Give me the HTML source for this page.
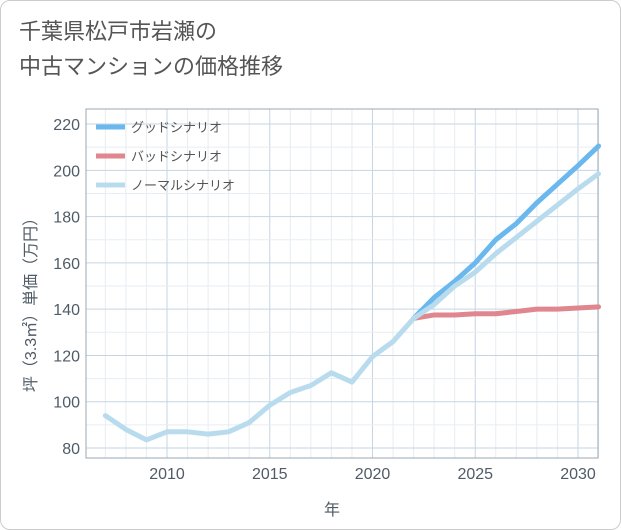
<!DOCTYPE html>
<html><head><meta charset="utf-8">
<style>
body{margin:0;background:#fff;}
#wrap{position:relative;width:619px;height:528px;border:1px solid #ccc;border-radius:10px;overflow:hidden;background:#fff;font-family:"Liberation Sans","Noto Sans CJK JP",sans-serif;}
#title{position:absolute;left:18px;top:13px;font-size:22px;line-height:35px;color:#555;}
svg{position:absolute;left:0;top:0;}
</style></head><body>
<div id="wrap">
<div id="title">千葉県松戸市岩瀬の<br>中古マンションの価格推移</div>
<svg id="chart" width="621" height="530"></svg>
</div>
<script>
const years=[2007,2008,2009,2010,2011,2012,2013,2014,2015,2016,2017,2018,2019,2020,2021,2022,2023,2024,2025,2026,2027,2028,2029,2030,2031];
const normalVals=[94,88,83.5,87,87,86,87,91,98.5,104,107,112.5,108.5,119.5,126,136,142,150,156,164,171,178,185,192,198.5];
const futureYears=[2022,2023,2024,2025,2026,2027,2028,2029,2030,2031];
const goodVals=[136,145,152,160,170,177,186,194,202,210.5];
const badVals=[136,137.5,137.5,138,138,139,140,140,140.5,141];
const xTicks=[2010,2015,2020,2025,2030];
const yTicks=[80,100,120,140,160,180,200,220];
const legendLabels=["グッドシナリオ","バッドシナリオ","ノーマルシナリオ"];

const L=85,R=597,T=108,B=457;
const x=v=>166+(v-2010)*20.55;
const y=v=>447-(v-80)*2.314;
const svg=document.getElementById('chart');
const NS='http://www.w3.org/2000/svg';
function mk(t,a){const e=document.createElementNS(NS,t);for(const k in a)e.setAttribute(k,a[k]);svg.appendChild(e);return e;}
for(let yr=2007;yr<=2031;yr++){const g=mk('line',{x1:x(yr),x2:x(yr),y1:T,y2:B,stroke:xTicks.includes(yr)?'#c5d5e3':'#e6edf3','stroke-width':1});
}
for(let v=80;v<=225;v+=10){const g=mk('line',{x1:L,x2:R,y1:y(v),y2:y(v),stroke:yTicks.includes(v)?'#c5d5e3':'#e6edf3','stroke-width':1});
}
const fr=mk('rect',{x:L,y:T,width:R-L,height:B-T,fill:'none',stroke:'#9aa8b5'});

xTicks.forEach(t=>{const e=mk('text',{x:x(t),y:478,'text-anchor':'middle','font-size':16,fill:'#4f5b66'});e.textContent=t;
});
yTicks.forEach(t=>{const e=mk('text',{x:79,y:y(t)+6,'text-anchor':'end','font-size':16,fill:'#4f5b66'});e.textContent=t;
});
const xt=mk('text',{x:331,y:514,'text-anchor':'middle','font-size':16,fill:'#4f5b66'});xt.textContent='年';

const yt=mk('text',{x:0,y:0,'text-anchor':'middle','font-size':16,fill:'#4f5b66',transform:'translate(35,300) rotate(-90)'});yt.textContent='坪（3.3㎡）単価（万円）';

function series(xs,vs,color,name){const p=mk('polyline',{points:xs.map((t,i)=>x(t)+','+y(vs[i])).join(' '),fill:'none',stroke:color,'stroke-width':5,'stroke-linejoin':'round','stroke-linecap':'round'});
}
series(futureYears,badVals,'#e0868e','bad-scenario-line');
series(futureYears,goodVals,'#6ab8ee','good-scenario-line');
series(years,normalVals,'#b8dcee','normal-scenario-line');
const lc=['#6ab8ee','#e0868e','#b8dcee'];
legendLabels.forEach((s,i)=>{const yy=126+i*29;
const l=mk('line',{x1:95,x2:124,y1:yy,y2:yy,stroke:lc[i],'stroke-width':5});

const t=mk('text',{x:130,y:yy+5,'font-size':13,fill:'#555'});t.textContent=s;
});
</script>
</body></html>
